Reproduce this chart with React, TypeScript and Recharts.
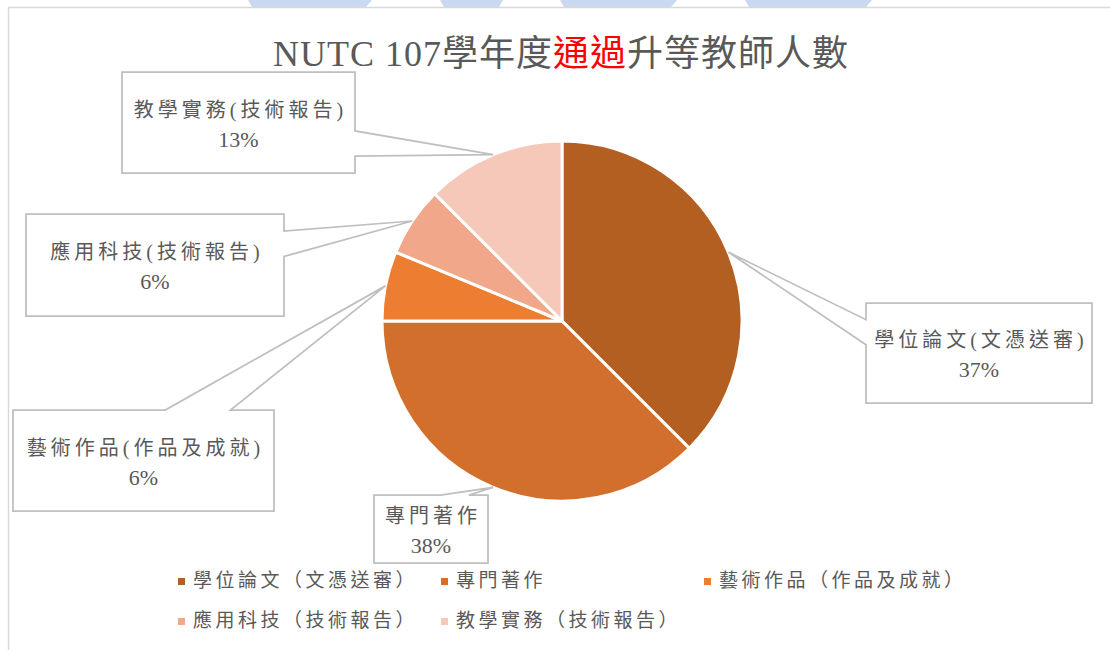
import React from 'react';
import { PieChart, Pie, Cell, Legend } from 'recharts';

const FONT = "'Liberation Serif', 'Noto Sans CJK TC', serif";
const TEXT = '#595959';

const chartTitle = 'NUTC 107學年度';
const chartTitleRed = '通過';
const chartTitleEnd = '升等教師人數';

const categories = ['學位論文(文憑送審)', '專門著作', '藝術作品(作品及成就)', '應用科技(技術報告)', '教學實務(技術報告)'];
const legendLabels = ['學位論文（文憑送審）', '專門著作', '藝術作品（作品及成就）', '應用科技（技術報告）', '教學實務（技術報告）'];
const teacherCounts = [6, 6, 1, 1, 2];
const percentLabels = ['37%', '38%', '6%', '6%', '13%'];
const sliceColors = ['#B45F22', '#D26F2C', '#ED7D31', '#F1A78A', '#F5C8BA'];

// callout boxes, same order as categories
const calloutBoxes = [
  { x: 866, y: 303, w: 226, h: 100 },
  { x: 374, y: 495, w: 114, h: 68 },
  { x: 13, y: 410, w: 261, h: 101 },
  { x: 26, y: 214, w: 258, h: 102 },
  { x: 122, y: 72, w: 233, h: 101 },
];

const data = categories.map((name, i) => ({ name, value: teacherCounts[i] }));

// rectangle with an excel-like wedge pointing at (tx, ty)
function calloutPath(b: any, tx: number, ty: number) {
  const mx = b.x + b.w / 2;
  const my = b.y + b.h / 2;
  const dx = tx - mx;
  const dy = ty - my;
  const x0 = b.x, y0 = b.y, x1 = b.x + b.w, y1 = b.y + b.h;
  const f = (lo: number, hi: number, t: number) => lo + (hi - lo) * t;
  let pts: number[][];
  if (Math.abs(dx) / b.w > Math.abs(dy) / b.h) {
    const [a, c] = dy < 0 ? [2 / 12, 5 / 12] : [7 / 12, 10 / 12];
    if (dx > 0) {
      pts = [[x0, y0], [x1, y0], [x1, f(y0, y1, a)], [tx, ty], [x1, f(y0, y1, c)], [x1, y1], [x0, y1]];
    } else {
      pts = [[x0, y0], [x1, y0], [x1, y1], [x0, y1], [x0, f(y0, y1, c)], [tx, ty], [x0, f(y0, y1, a)]];
    }
  } else {
    const [a, c] = dx < 0 ? [2 / 12, 5 / 12] : [7 / 12, 10 / 12];
    if (dy < 0) {
      pts = [[x0, y0], [f(x0, x1, a), y0], [tx, ty], [f(x0, x1, c), y0], [x1, y0], [x1, y1], [x0, y1]];
    } else {
      pts = [[x0, y0], [x1, y0], [x1, y1], [f(x0, x1, c), y1], [tx, ty], [f(x0, x1, a), y1], [x0, y1]];
    }
  }
  return 'M' + pts.map((p) => p.join(',')).join('L') + 'Z';
}

const renderCallout = (props: any) => {
  const { cx, cy, midAngle, outerRadius, index } = props;
  const rad = Math.PI / 180;
  const tx = cx + outerRadius * Math.cos(-midAngle * rad);
  const ty = cy + outerRadius * Math.sin(-midAngle * rad);
  const b = calloutBoxes[index];
  const mx = b.x + b.w / 2;
  const my = b.y + b.h / 2;
  return (
    <g key={`callout-${index}`}>
      <path d={calloutPath(b, tx, ty)} fill="#fff" stroke="#BFBFBF" strokeWidth={1.75} />
      <text x={mx + 2} y={my - 6} textAnchor="middle" fontSize={20} letterSpacing={4} fill={TEXT} fontFamily={FONT}>
        {categories[index]}
      </text>
      <text x={mx} y={my + 24} textAnchor="middle" fontSize={22} fill={TEXT} fontFamily={FONT}>
        {percentLabels[index]}
      </text>
    </g>
  );
};

const renderLegend = () => (
  <div style={{ position: 'relative', width: 1110, height: 70 }}>
    {legendLabels.map((label, i) => {
      const col = i % 3;
      const row = Math.floor(i / 3);
      return (
        <div
          key={label}
          style={{ position: 'absolute', left: 178 + col * 263, top: row * 40, height: 24, display: 'flex', alignItems: 'center' }}
        >
          <span style={{ display: 'inline-block', width: 7, height: 7, background: sliceColors[i], marginRight: 8 }} />
          <span style={{ fontSize: 19, letterSpacing: 3.5, color: TEXT, fontFamily: FONT, whiteSpace: 'nowrap', lineHeight: '24px' }}>
            {label}
          </span>
        </div>
      );
    })}
  </div>
);

export default function App() {
  return (
    <div style={{ position: 'absolute', left: 0, top: 0, width: 1110, height: 650, background: '#fff', overflow: 'hidden' }}>
      <svg width={1110} height={650} style={{ position: 'absolute', left: 0, top: 0 }}>
        <polygon points="248,0 372,0 366,7 252,7" fill="#C9D9F0" />
        <polygon points="440,0 503,0 499,7 444,7" fill="#C9D9F0" />
        <polygon points="560,0 677,0 671,7 564,7" fill="#C9D9F0" />
        <polygon points="745,0 872,0 866,7 749,7" fill="#C9D9F0" />
        <rect x={8.5} y={7.5} width={1200} height={700} fill="#fff" stroke="#D9D9D9" strokeWidth={1.5} />
        <text x={561} y={66} textAnchor="middle" fontSize={36} letterSpacing={1} fill={TEXT} fontFamily={FONT}>
          {chartTitle}
          <tspan fill="#FF0000">{chartTitleRed}</tspan>
          {chartTitleEnd}
        </text>
      </svg>
      <div style={{ position: 'absolute', left: 0, top: 0 }}>
        <PieChart width={1110} height={650} margin={{ top: 0, right: 0, bottom: 0, left: 0 }}>
          <Pie
            data={data}
            dataKey="value"
            nameKey="name"
            cx={562}
            cy={321}
            outerRadius={180}
            startAngle={90}
            endAngle={-270}
            stroke="#fff"
            strokeWidth={3}
            label={renderCallout}
            labelLine={false}
            isAnimationActive={false}
          >
            {data.map((entry, i) => (
              <Cell key={entry.name} fill={sliceColors[i]} />
            ))}
          </Pie>
          <Legend content={renderLegend} wrapperStyle={{ left: 0, top: 569, width: 1110, height: 70 }} />
        </PieChart>
      </div>
    </div>
  );
}
